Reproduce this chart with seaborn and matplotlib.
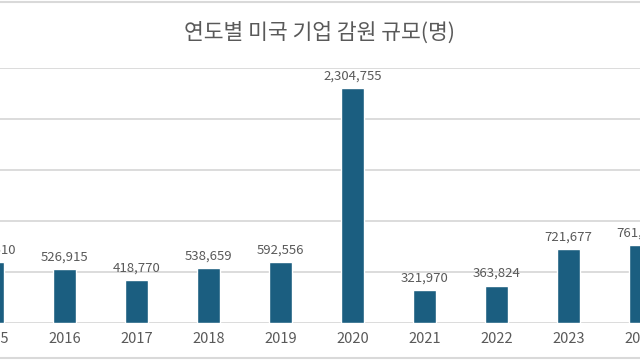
import matplotlib
matplotlib.use('Agg')
import matplotlib.pyplot as plt
from matplotlib.lines import Line2D
import seaborn as sns
import pandas as pd

years = ['2015', '2016', '2017', '2018', '2019', '2020', '2021', '2022', '2023', '2024']
layoffs = [598510, 526915, 418770, 538659, 592556, 2304755, 321970, 363824, 721677, 761358]

df = pd.DataFrame({'year': years, 'layoffs': layoffs})

sns.set_style('white')
plt.rcParams['font.family'] = ['Noto Sans CJK KR', 'DejaVu Sans']

fig = plt.figure(figsize=(6.4, 3.6), dpi=100)
# axes wider than the figure so the first and last bars are cut at the edges
ax = fig.add_axes([-43.5 / 640, 1 - 322.7 / 360, 720 / 640, (322.7 - 68) / 360])

sns.barplot(data=df, x='year', y='layoffs', color='#1B5E80', width=0.31,
            saturation=1, ax=ax)

ax.set_xlim(-0.5, 9.5)
ax.set_ylim(0, 2500000)
ax.set_yticks([0, 500000, 1000000, 1500000, 2000000, 2500000])
ax.yaxis.grid(True, color='#d9d9d9', linewidth=1.3)
ax.set_axisbelow(True)
ax.set_yticklabels([])
ax.tick_params(axis='y', length=0)
ax.tick_params(axis='x', length=0, pad=7, labelsize=10.5, labelcolor='#595959')
ax.set_xlabel('')
ax.set_ylabel('')
sns.despine(ax=ax, left=True, bottom=True)

ax.bar_label(ax.containers[0], labels=[f'{v:,}' for v in layoffs],
             padding=4, fontsize=9.5, color='#595959')

fig.text(0.5, 1 - 33 / 360, '연도별 미국 기업 감원 규모(명)', ha='center', va='center',
         fontsize=15.5, color='#595959')

# light frame lines at top and bottom of the picture
fig.add_artist(Line2D([0, 1], [1 - 1.5 / 360, 1 - 1.5 / 360], transform=fig.transFigure,
                      color='#d9d9d9', linewidth=1.5))
fig.add_artist(Line2D([0, 1], [2 / 360, 2 / 360], transform=fig.transFigure,
                      color='#d9d9d9', linewidth=1.5))

fig.savefig('out.png', dpi=100)
